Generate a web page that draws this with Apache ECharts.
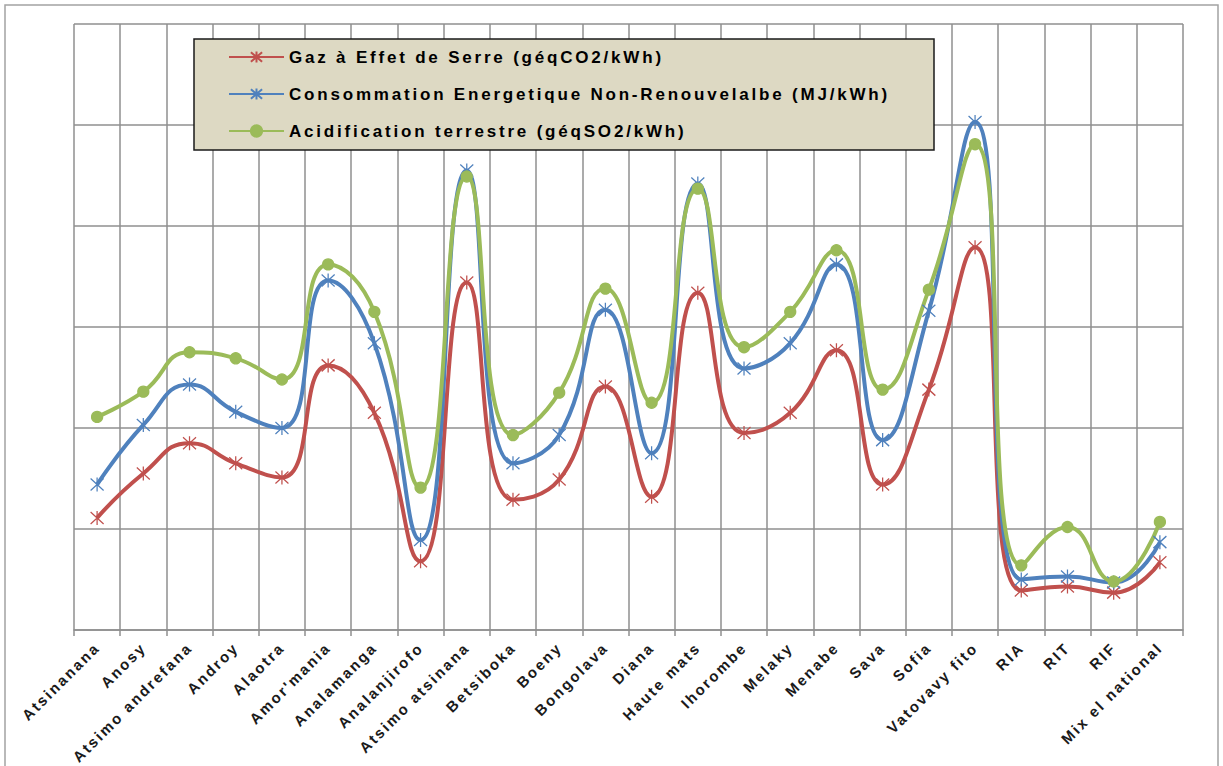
<!DOCTYPE html>
<html>
<head>
<meta charset="utf-8">
<script src="https://cdn.jsdelivr.net/npm/echarts@6/dist/echarts.min.js"></script>
<style>
  html, body { margin: 0; padding: 0; background: #ffffff; }
  #chart { width: 1223px; height: 766px; }
  /* spaced-out lettering for axis labels and legend entries */
  #chart text[style*="15px"] { letter-spacing: 2.2px; }
  #chart text[style*="17px"] { letter-spacing: 2.8px; }
</style>
</head>
<body>
<div id="chart"></div>
<script>
// Regions and national mix
const regions = [
  'Atsinanana', 'Anosy', 'Atsimo andrefana', 'Androy', 'Alaotra', "Amor'mania",
  'Analamanga', 'Analanjirofo', 'Atsimo atsinana', 'Betsiboka', 'Boeny', 'Bongolava',
  'Diana', 'Haute mats', 'Ihorombe', 'Melaky', 'Menabe', 'Sava', 'Sofia',
  'Vatovavy fito', 'RIA', 'RIT', 'RIF', 'Mix el national'
];

const seriesNames = [
  'Gaz à Effet de Serre (géqCO2/kWh)',
  'Consommation Energetique Non-Renouvelalbe (MJ/kWh)',
  'Acidification terrestre (géqSO2/kWh)'
];

// Greenhouse gas
const gesValues = [1.11, 1.55, 1.85, 1.65, 1.51, 2.62, 2.15, 0.68, 3.44, 1.29, 1.49, 2.41,
  1.32, 3.34, 1.95, 2.15, 2.77, 1.44, 2.38, 3.79, 0.39, 0.43, 0.37, 0.67];

// Non-renewable energy consumption
const energyValues = [1.44, 2.03, 2.43, 2.16, 2.00, 3.46, 2.84, 0.89, 4.55, 1.65, 1.93, 3.17,
  1.75, 4.42, 2.59, 2.84, 3.62, 1.88, 3.16, 5.03, 0.50, 0.53, 0.47, 0.87];

// Terrestrial acidification
const acidValues = [2.11, 2.36, 2.75, 2.69, 2.48, 3.62, 3.15, 1.41, 4.49, 1.93, 2.35, 3.38,
  2.25, 4.37, 2.80, 3.15, 3.76, 2.38, 3.37, 4.81, 0.64, 1.02, 0.48, 1.07];

const colors = ['#C0504D', '#4F81BD', '#9BBB59'];
const asterisk = 'path://M-6,-6L6,6M-6,6L6,-6M0,-7L0,7';
const gridColor = '#8f8f8f';
const fontFamily = "'Liberation Sans', Arial, sans-serif";

const chart = echarts.init(document.getElementById('chart'), null, { renderer: 'svg' });

function lineSeries(name, data, color, symbol, size) {
  return {
    name: name,
    type: 'line',
    data: data,
    smooth: 0.5,
    symbol: symbol,
    symbolSize: size,
    showAllSymbol: true,
    lineStyle: { color: color, width: 4 },
    itemStyle: { color: color, borderColor: color, borderWidth: 1.3 },
    emphasis: { disabled: true }
  };
}

chart.setOption({
  animation: false,
  backgroundColor: '#ffffff',
  color: colors,
  grid: { left: 74, right: 40, top: 24, bottom: 136 },
  graphic: [
    {
      type: 'rect', z: -10, silent: true,
      shape: { x: 5, y: 5, width: 1213, height: 800 },
      style: { fill: 'none', stroke: '#a3a3a3', lineWidth: 1.5 }
    },
    {
      type: 'rect', z: 3, silent: true,
      shape: { x: 194, y: 39, width: 740, height: 111 },
      style: { fill: '#DDD9C3', stroke: '#1a1a1a', lineWidth: 1.5 }
    }
  ],
  legend: {
    orient: 'vertical',
    left: 228,
    top: 47,
    padding: 0,
    itemWidth: 55,
    itemHeight: 14,
    itemGap: 17,
    selectedMode: false,
    z: 5,
    textStyle: {
      color: '#000000',
      fontSize: 17,
      fontWeight: 'bold',
      fontFamily: fontFamily,
      lineHeight: 20,
      padding: [0, 0, 0, 0]
    },
    data: seriesNames
  },
  xAxis: {
    type: 'category',
    data: regions,
    boundaryGap: true,
    axisLine: { show: true, lineStyle: { color: gridColor, width: 1.5 } },
    axisTick: { show: true, interval: 0, length: 6, lineStyle: { color: gridColor, width: 1.5 } },
    splitLine: { show: true, interval: 0, lineStyle: { color: gridColor, width: 1.5 } },
    axisLabel: {
      interval: 0,
      rotate: 45,
      margin: 15,
      color: '#1a1a1a',
      fontSize: 15,
      fontWeight: 'bold',
      fontFamily: fontFamily
    }
  },
  yAxis: {
    type: 'value',
    min: 0,
    max: 6,
    interval: 1,
    axisLine: { show: false },
    axisTick: { show: false },
    axisLabel: { show: false },
    splitLine: { show: true, lineStyle: { color: gridColor, width: 1.5 } }
  },
  series: [
    lineSeries(seriesNames[0], gesValues, colors[0], asterisk, [13, 14]),
    lineSeries(seriesNames[1], energyValues, colors[1], asterisk, [13, 14]),
    lineSeries(seriesNames[2], acidValues, colors[2], 'circle', 11)
  ]
});
</script>
</body>
</html>
